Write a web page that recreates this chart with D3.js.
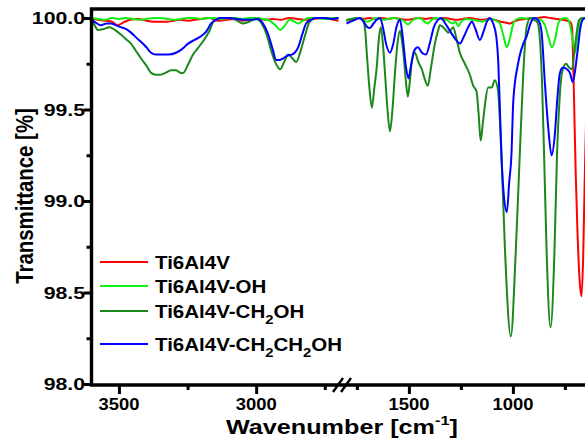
<!DOCTYPE html>
<meta charset="utf-8">
<style>
    html, body { margin:0; padding:0; overflow:hidden; background:#fff }
    text { font-family: "Liberation Sans", Arial, sans-serif; font-weight: bold; fill: #000 }
    .spec { fill: none; stroke-width: 2; stroke-linejoin: round }
    .tick line { stroke: #000; stroke-width: 3 }
</style>
<svg id="mainsvg" width="585" height="442"></svg>
<script src="https://d3js.org/d3.v7.min.js"></script>
<script>

// [wavenumber, transmittance]
var tiData = [
    [3600,99.995],[3575,99.99],[3550,99.985],[3525,99.98],[3505,99.96],[3485,99.975],[3460,99.99],[3430,99.995],
    [3400,99.985],[3375,99.98],[3350,99.98],[3325,99.98],[3300,99.985],[3275,99.99],[3250,99.985],[3225,99.99],
    [3200,99.995],[3170,100.0],[3140,99.985],[3110,99.99],[3080,99.995],[3050,99.985],[3020,99.995],[3000,100.0],
    [2970,99.99],[2940,99.995],[2910,99.99],[2880,100.0],[2850,99.995],[2820,99.99],[2790,99.995],[2760,100.0],
    [2730,99.995],[2700,99.985],
    [1800,99.985],[1780,99.99],[1750,100.0],[1720,99.995],[1690,100.0],[1660,99.995],[1630,100.0],[1600,99.995],
    [1570,100.0],[1540,99.995],[1510,99.99],[1480,99.995],[1450,100.0],[1420,99.995],[1390,100.0],[1360,99.995],
    [1330,100.0],[1300,99.995],[1270,99.99],[1240,99.995],[1210,100.0],[1180,99.995],[1150,99.99],[1120,99.995],
    [1090,99.99],[1060,99.98],[1035,99.975],[1015,99.97],[995,99.98],[970,99.99],[940,99.995],[910,100.0],
    [880,100.0],[850,100.005],[820,100.0],[790,99.995],[760,99.99],[740,99.985],[726,99.98],[716,99.95],
    [710,99.75],[704,99.45],[698,99.15],[690,98.85],[680,98.58],[670,98.48],[662,98.7],[655,99.1],[645,99.6],[635,99.9]
];

var ohData = [
    [3600,100.0],[3575,99.995],[3550,99.99],[3525,100.0],[3500,99.995],[3475,100.0],[3450,99.995],[3425,99.99],
    [3400,99.995],[3375,100.0],[3350,100.0],[3325,99.995],[3300,99.99],[3275,99.995],[3250,100.0],[3225,100.0],
    [3200,99.995],[3175,100.0],[3150,100.0],[3125,99.995],[3100,100.0],[3075,100.0],[3050,99.995],[3025,100.0],
    [3000,100.0],[2975,99.995],[2950,99.985],[2930,99.96],[2912,99.935],[2895,99.96],[2878,99.99],[2860,99.98],
    [2847,99.97],[2830,99.985],[2810,100.0],[2780,100.0],[2750,99.995],[2720,100.0],[2700,100.0],
    [1800,99.985],[1780,99.995],[1750,100.0],[1725,99.995],[1702,99.98],[1680,99.99],[1660,100.0],[1640,99.995],
    [1620,99.99],[1600,99.995],[1575,100.0],[1550,99.995],[1525,99.985],[1505,99.965],[1485,99.985],[1460,100.0],
    [1440,99.995],[1420,99.975],[1409,99.97],[1395,99.985],[1375,100.0],[1350,99.995],[1320,99.99],[1300,99.975],
    [1288,99.97],[1275,99.98],[1263,99.955],[1245,99.985],[1220,99.995],[1195,99.99],[1170,99.985],[1145,99.98],
    [1125,99.99],[1100,99.995],[1080,99.985],[1063,99.97],[1045,99.90],[1029,99.84],[1012,99.90],[998,99.97],
    [980,99.995],[955,100.0],[930,99.995],[905,100.0],[880,99.995],[860,99.985],[846,99.96],[828,99.89],
    [812,99.84],[796,99.89],[782,99.97],[765,99.995],[745,100.0],[730,99.98],[720,99.93],[710,99.86],
    [702,99.81],[692,99.88],[680,99.97],[665,100.0],[650,100.0]
];

var ch2ohData = [
    [3600,99.99],[3590,99.965],[3577,99.935],[3555,99.94],[3534,99.95],[3515,99.935],[3493,99.91],[3475,99.885],
    [3456,99.86],[3438,99.82],[3420,99.78],[3400,99.74],[3383,99.70],[3365,99.69],[3350,99.69],[3330,99.70],
    [3310,99.715],[3292,99.715],[3275,99.70],[3266,99.70],[3250,99.74],[3230,99.80],[3210,99.84],[3190,99.88],
    [3170,99.93],[3155,99.98],[3130,100.0],[3100,100.0],[3075,99.99],[3050,99.97],[3025,99.98],[3000,99.995],
    [2980,99.97],[2962,99.91],[2945,99.82],[2928,99.75],[2912,99.72],[2898,99.76],[2883,99.80],[2868,99.78],
    [2854,99.76],[2838,99.82],[2821,99.91],[2805,99.98],[2785,100.0],[2750,100.0],[2725,99.995],[2700,100.0],
    [1800,99.99],[1770,99.995],[1736,100.0],[1721,99.99],[1710,99.93],[1702,99.80],[1690,99.62],[1678,99.51],
    [1666,99.62],[1654,99.74],[1645,99.88],[1635,99.95],[1625,99.86],[1615,99.70],[1603,99.50],[1591,99.38],
    [1579,99.50],[1567,99.70],[1555,99.86],[1543,99.93],[1534,99.88],[1524,99.78],[1515,99.66],[1505,99.57],
    [1495,99.66],[1486,99.76],[1471,99.81],[1455,99.76],[1438,99.72],[1422,99.66],[1409,99.63],[1395,99.72],
    [1375,99.86],[1360,99.93],[1351,99.96],[1335,99.95],[1320,99.93],[1311,99.92],[1298,99.935],[1287,99.95],
    [1272,99.89],[1255,99.81],[1231,99.75],[1207,99.69],[1191,99.63],[1175,99.60],[1165,99.48],[1155,99.33],
    [1145,99.42],[1135,99.52],[1119,99.62],[1102,99.62],[1087,99.66],[1071,99.60],[1063,99.45],[1055,99.25],
    [1038,98.73],[1010,98.26],[986,98.73],[966,99.28],[950,99.70],[934,99.95],[915,100.0],[900,99.99],
    [890,99.985],[880,99.97],[870,99.88],[860,99.65],[850,99.25],[838,98.73],[819,98.31],[800,98.73],
    [788,99.25],[776,99.55],[764,99.70],[745,99.75],[730,99.73],[716,99.72],[700,99.86],[682,99.99],[665,100.0],[650,100.0]
];

var ch2ch2ohData = [
    [3600,99.99],[3585,99.975],[3566,99.96],[3545,99.97],[3529,99.97],[3510,99.96],[3493,99.95],[3475,99.94],
    [3456,99.92],[3435,99.89],[3420,99.87],[3400,99.84],[3383,99.81],[3365,99.80],[3347,99.80],[3320,99.80],
    [3292,99.81],[3270,99.83],[3248,99.86],[3225,99.88],[3201,99.90],[3180,99.93],[3164,99.97],[3145,99.99],
    [3131,100.0],[3100,100.0],[3070,99.995],[3040,99.99],[3020,99.99],[2993,99.995],[2975,99.97],[2956,99.91],
    [2940,99.83],[2927,99.77],[2915,99.77],[2901,99.78],[2885,99.795],[2870,99.80],[2847,99.84],[2830,99.92],
    [2818,99.97],[2800,99.99],[2785,100.0],[2750,100.0],[2725,99.995],[2700,100.0],
    [1800,99.97],[1780,99.98],[1760,99.99],[1736,100.0],[1715,99.975],[1700,99.95],[1688,99.945],[1670,99.97],
    [1655,99.99],[1639,100.0],[1625,99.95],[1610,99.86],[1591,99.81],[1575,99.86],[1560,99.95],[1543,99.99],
    [1530,99.90],[1515,99.74],[1502,99.67],[1490,99.74],[1475,99.82],[1457,99.84],[1437,99.81],[1418,99.80],
    [1400,99.86],[1380,99.95],[1360,99.99],[1345,100.0],[1325,99.97],[1303,99.93],[1280,99.89],[1255,99.86],
    [1235,99.90],[1215,99.95],[1197,99.98],[1180,99.94],[1159,99.88],[1140,99.93],[1125,99.98],[1111,100.0],
    [1095,99.97],[1080,99.90],[1070,99.75],[1063,99.52],[1055,99.25],[1045,99.05],[1029,98.94],[1018,99.10],
    [1006,99.28],[1000,99.50],[990,99.65],[980,99.72],[966,99.80],[950,99.86],[934,99.90],[915,99.97],
    [900,100.0],[885,99.995],[870,99.97],[862,99.92],[846,99.64],[830,99.40],[814,99.25],[798,99.37],
    [787,99.55],[774,99.70],[760,99.73],[740,99.72],[726,99.70],[712,99.65],[700,99.72],[688,99.83],
    [675,99.95],[665,99.99],[650,100.0]
];

var seriesData = [tiData, ohData, ch2ohData, ch2ch2ohData];
var seriesColors = ["#ff0000", "#11ee11", "#1c881c", "#0000ff"];
// legend labels: [text, subscript, text, subscript, text]
var seriesLabels = [
    ["Ti6Al4V"],
    ["Ti6Al4V-OH"],
    ["Ti6Al4V-CH", "2", "OH"],
    ["Ti6Al4V-CH", "2", "CH", "2", "OH"]
];

var yTicks = [98.0, 98.5, 99.0, 99.5, 100.0];
var yMinorTicks = [98.25, 98.75, 99.25, 99.75];
var xLeftTicks = [3500, 3000];
var xLeftMinor = [3250, 2750];
var xRightTicks = [1500, 1000];
var xRightMinor = [1750, 1250, 750];


var svg = d3.select("#mainsvg");

var y = d3.scaleLinear().domain([98, 100]).range([384, 18]);
var xL = d3.scaleLinear().domain([3600, 2700]).range([91.5, 338.5]);
var xR = d3.scaleLinear().domain([1800, 650]).range([346.5, 585.7]);

var frameTop = 9, frameBottom = 385, frameLeft = 91.5;

var segments = [
    { id: "clipL", x: xL, x0: frameLeft, x1: 339.5, keep: function(d) { return d[0] >= 2690; } },
    { id: "clipR", x: xR, x0: 346, x1: 590, keep: function(d) { return d[0] <= 1810; } }
];

var defs = svg.append("defs");
segments.forEach(function(seg) {
    defs.append("clipPath").attr("id", seg.id)
        .append("rect")
        .attr("x", seg.x0).attr("y", frameTop)
        .attr("width", seg.x1 - seg.x0).attr("height", frameBottom - frameTop);
});

// spectra
segments.forEach(function(seg) {
    var line = d3.line()
        .x(function(d) { return seg.x(d[0]); })
        .y(function(d) { return y(d[1]); })
        .curve(d3.curveMonotoneX);
    var g = svg.append("g").attr("clip-path", "url(#" + seg.id + ")");
    seriesData.forEach(function(s, i) {
        g.append("path")
            .datum(s.filter(seg.keep))
            .attr("class", "spec")
            .attr("stroke", seriesColors[i])
            .attr("d", line);
    });
});

// ticks
function tickAxis(axis, tr) {
    var g = svg.append("g").attr("transform", tr).call(axis);
    g.select(".domain").remove();
    return g;
}
tickAxis(d3.axisLeft(y).tickValues(yTicks).tickSize(8).tickFormat(""), "translate(" + frameLeft + ",0)");
tickAxis(d3.axisLeft(y).tickValues(yMinorTicks).tickSize(5).tickFormat(""), "translate(" + frameLeft + ",0)");
tickAxis(d3.axisBottom(xL).tickValues(xLeftTicks).tickSize(9).tickFormat(""), "translate(0," + frameBottom + ")");
tickAxis(d3.axisBottom(xL).tickValues(xLeftMinor).tickSize(5).tickFormat(""), "translate(0," + frameBottom + ")");
tickAxis(d3.axisBottom(xR).tickValues(xRightTicks).tickSize(9).tickFormat(""), "translate(0," + frameBottom + ")");
tickAxis(d3.axisBottom(xR).tickValues(xRightMinor).tickSize(5).tickFormat(""), "translate(0," + frameBottom + ")");

// frame
svg.append("path")
    .attr("d", "M585," + frameTop + "H" + frameLeft + "V" + frameBottom + "H585")
    .attr("fill", "none").attr("stroke", "#000").attr("stroke-width", 3.4);

// axis break
svg.append("path")
    .attr("d", "M333,392L343,378M341,392L351,378")
    .attr("stroke", "#000").attr("stroke-width", 2.4).attr("fill", "none");

// tick labels
svg.selectAll(".ylab").data(yTicks).enter().append("g")
    .attr("transform", function(d) { return "translate(85," + (y(d) + 6) + ") scale(1.25,1)"; })
    .append("text")
    .attr("text-anchor", "end").style("font-size", "17px")
    .text(function(d) { return d.toFixed(1); });

var xLabels = xLeftTicks.map(function(d) { return { v: d, x: xL(d) }; })
    .concat(xRightTicks.map(function(d) { return { v: d, x: xR(d) }; }));
svg.selectAll(".xlab").data(xLabels).enter().append("g")
    .attr("transform", function(d) { return "translate(" + d.x + ",410) scale(1.15,1)"; })
    .append("text")
    .attr("text-anchor", "middle").style("font-size", "16px")
    .text(function(d) { return d.v; });

// axis titles
var xt = svg.append("g").attr("transform", "translate(226,434) scale(1.26,1)")
    .append("text").style("font-size", "20px");
xt.append("tspan").text("Wavenumber [cm");
xt.append("tspan").attr("dy", -9).style("font-size", "13px").text("-1");
xt.append("tspan").attr("dy", 9).text("]");

svg.append("g").attr("transform", "translate(33,196) rotate(-90) scale(1.02,1.2)")
    .append("text")
    .attr("text-anchor", "middle").style("font-size", "20px")
    .text("Transmittance [%]");

// legend
var legendY = [262, 286, 311, 344];
seriesLabels.forEach(function(parts, i) {
    svg.append("line")
        .attr("x1", 100).attr("x2", 148)
        .attr("y1", legendY[i]).attr("y2", legendY[i])
        .attr("stroke", seriesColors[i]).attr("stroke-width", 2);
    var t = svg.append("g")
        .attr("transform", "translate(155," + (legendY[i] + 7) + ") scale(1.14,1)")
        .append("text").style("font-size", "18px");
    parts.forEach(function(p, j) {
        var sp = t.append("tspan").text(p);
        if (j % 2 == 1) sp.attr("dy", 6).style("font-size", "13px");
        else if (j > 0) sp.attr("dy", -6);
    });
});

</script>
